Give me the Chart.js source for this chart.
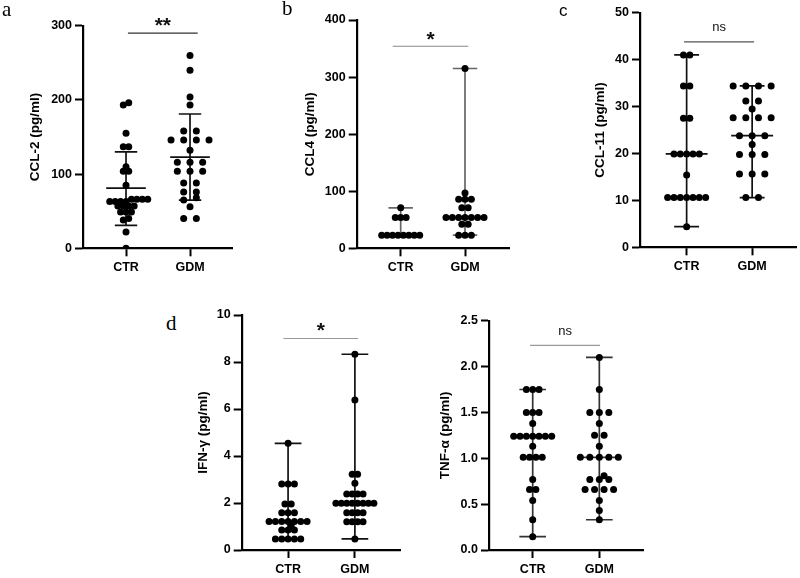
<!DOCTYPE html>
<html>
<head>
<meta charset="utf-8">
<script src="https://cdn.jsdelivr.net/npm/chart.js@4.4.1/dist/chart.umd.min.js"></script>
<style>
  body { margin: 0; background: #fff; }
  #fig { position: relative; width: 800px; height: 578px; overflow: hidden; }
  .panel { position: absolute; }
  .tag { position: absolute; font: 21px 'Liberation Serif', serif; line-height: 1; color: #000; }
</style>
</head>
<body>
<div id="fig">
  <canvas class="panel" id="ca" width="245" height="290" style="left:0;top:0"></canvas>
  <canvas class="panel" id="cb" width="255" height="290" style="left:262px;top:0"></canvas>
  <canvas class="panel" id="cc" width="255" height="290" style="left:545px;top:0"></canvas>
  <canvas class="panel" id="cd" width="225" height="283" style="left:185px;top:295px"></canvas>
  <canvas class="panel" id="ce" width="220" height="283" style="left:430px;top:295px"></canvas>
  <div class="tag" style="left:2px;top:-1px">a</div>
  <div class="tag" style="left:282px;top:-2px">b</div>
  <div class="tag" style="left:559px;top:1px;font:17px 'Liberation Sans',sans-serif">c</div>
  <div class="tag" style="left:166px;top:313px">d</div>
</div>
<script>
const groups = ['CTR', 'GDM'];

// a: CCL-2, mean with SD
const ccl2Ctr = [196, 193, 155, 137, 137, 110, 104, 104, 85, 66, 66, 66, 66, 63, 63, 63, 63, 57, 57, 57, 57, 49, 49, 49, 40, 38, 22, 0];
const ccl2Gdm = [260, 240, 204, 193, 158, 158, 146, 146, 146, 146, 132, 116, 116, 116, 104, 104, 104, 88, 88, 76, 76, 68, 65, 56, 40, 40];
const ccl2Mid = [81, 123];
const ccl2Low = [31, 65];
const ccl2High = [130, 181];
const ccl2Ticks = [0, 100, 200, 300];

// b: CCL4, median with range
const ccl4Ctr = [71, 54, 54, 54, 23, 23, 23, 23, 23, 23, 23, 23];
const ccl4Gdm = [315, 97, 86, 86, 86, 71, 71, 54, 54, 54, 54, 54, 54, 54, 42, 42, 23, 23, 23];
const ccl4Mid = [23, 54];
const ccl4Low = [23, 23];
const ccl4High = [71, 315];
const ccl4Ticks = [0, 100, 200, 300, 400];

// c: CCL-11
const ccl11Ctr = [41, 41, 34.4, 34.4, 27.5, 27.5, 19.9, 19.9, 19.9, 19.9, 19.9, 15.4, 10.6, 10.6, 10.6, 10.6, 10.6, 10.6, 10.6, 4.4];
const ccl11Gdm = [34.4, 34.4, 34.4, 34.4, 31.2, 31.2, 29.5, 27.6, 27.6, 27.6, 27.6, 23.8, 23.8, 23.8, 21.9, 19.8, 19.8, 19.8, 15.6, 15.6, 15.6, 10.6, 10.6];
const ccl11Mid = [19.9, 23.8];
const ccl11Low = [4.4, 10.6];
const ccl11High = [41, 34.4];
const ccl11Ticks = [0, 10, 20, 30, 40, 50];

// d: IFN-γ
const ifnCtr = [4.54, 2.81, 2.81, 2.81, 1.96, 1.96, 1.59, 1.59, 1.59, 1.21, 1.21, 1.21, 1.21, 1.21, 1.21, 1.21, 1.02, 0.85, 0.85, 0.85, 0.47, 0.47, 0.47, 0.47, 0.47];
const ifnGdm = [8.33, 6.38, 3.22, 3.22, 2.84, 2.38, 2.38, 2.38, 2.38, 1.99, 1.99, 1.99, 1.99, 1.99, 1.99, 1.99, 1.99, 1.59, 1.59, 1.59, 1.59, 1.2, 1.2, 1.2, 1.2, 0.47];
const ifnMid = [1.21, 1.99];
const ifnLow = [0.47, 0.47];
const ifnHigh = [4.54, 8.33];
const ifnTicks = [0, 2, 4, 6, 8, 10];

// e: TNF-α
const tnfCtr = [1.75, 1.75, 1.75, 1.5, 1.5, 1.5, 1.38, 1.24, 1.24, 1.24, 1.24, 1.24, 1.24, 1.24, 1.13, 1.01, 1.01, 1.01, 1.01, 0.77, 0.66, 0.66, 0.54, 0.33, 0.145];
const tnfGdm = [2.1, 1.75, 1.5, 1.5, 1.5, 1.38, 1.25, 1.25, 1.13, 1.01, 1.01, 1.01, 1.01, 1.01, 0.81, 0.77, 0.77, 0.77, 0.66, 0.66, 0.66, 0.66, 0.54, 0.43, 0.33];
const tnfMid = [1.24, 1.01];
const tnfLow = [0.145, 0.33];
const tnfHigh = [1.75, 2.1];
const tnfTicks = [0, 0.5, 1.0, 1.5, 2.0, 2.5];

const significance = ['**', '*', 'ns', '*', 'ns'];

Chart.defaults.font.family = "'Liberation Sans', Arial, sans-serif";
Chart.defaults.color = '#000';

const panels = [
  { id: 'ca', box: [0, 0, 245, 290], area: [83, 232, 25.7, 248.3], xr: [0.328, 2.656], titleX: 35,
    title: 'CCL-2 (pg/ml)', ctr: ccl2Ctr, gdm: ccl2Gdm, mid: ccl2Mid, low: ccl2Low, high: ccl2High, ticks: ccl2Ticks,
    half: 0.31, cap: 0.175, line: '#111', sig: { from: 1.03, to: 2.12, at: 290, gap: 1, color: '#333' } },
  { id: 'cb', box: [262, 0, 255, 290], area: [356.7, 509, 20, 248.3], xr: [0.316, 2.684], titleX: 310,
    title: 'CCL4 (pg/ml)', ctr: ccl4Ctr, gdm: ccl4Gdm, mid: ccl4Mid, low: ccl4Low, high: ccl4High, ticks: ccl4Ticks,
    half: 0.3, cap: 0.19, line: '#666', sig: { from: 0.876, to: 2.05, at: 354, gap: 0, color: '#888' } },
  { id: 'cc', box: [545, 0, 255, 290], area: [640, 796.7, 12.7, 247.3], xr: [0.288, 2.677], titleX: 600,
    title: 'CCL-11 (pg/ml)', ctr: ccl11Ctr, gdm: ccl11Gdm, mid: ccl11Mid, low: ccl11Low, high: ccl11High, ticks: ccl11Ticks,
    half: 0.32, cap: 0.19, line: '#111', sig: { from: 0.96, to: 2.03, at: 43.8, gap: 11, color: '#555' } },
  { id: 'cd', box: [185, 295, 225, 283], area: [241.7, 400, 315, 550], xr: [0.306, 2.675], titleX: 203.3,
    title: 'IFN-γ (pg/ml)', ctr: ifnCtr, gdm: ifnGdm, mid: ifnMid, low: ifnLow, high: ifnHigh, ticks: ifnTicks,
    half: 0.32, cap: 0.2, line: '#111', sig: { from: 0.93, to: 2.05, at: 9.0, gap: 2, color: '#999' } },
  { id: 'ce', box: [430, 295, 220, 283], area: [489, 643.3, 320.7, 550], xr: [0.344, 2.66], titleX: 445, fixed: 1,
    title: 'TNF-α (pg/ml)', ctr: tnfCtr, gdm: tnfGdm, mid: tnfMid, low: tnfLow, high: tnfHigh, ticks: tnfTicks,
    half: 0.32, cap: 0.2, line: '#333', sig: { from: 0.96, to: 2.01, at: 2.23, gap: 10, color: '#999' } }
];

// min/range whisker with caps and a centre bar, one polyline broken by gaps
function whisker(c, lo, hi, mid, cap, half) {
  return [
    { x: c - cap, y: hi }, { x: c + cap, y: hi }, { x: c, y: null },
    { x: c, y: hi }, { x: c, y: lo }, { x: c, y: null },
    { x: c - cap, y: lo }, { x: c + cap, y: lo }, { x: c, y: null },
    { x: c - half, y: mid }, { x: c + half, y: mid }
  ];
}

const sigPlugin = {
  id: 'sig',
  afterDatasetsDraw(chart, args, o) {
    const { ctx, scales: { x, y } } = chart;
    const x1 = x.getPixelForValue(o.from), x2 = x.getPixelForValue(o.to);
    const yy = y.getPixelForValue(o.at);
    ctx.save();
    ctx.strokeStyle = o.color;
    ctx.lineWidth = 1.2;
    ctx.beginPath();
    ctx.moveTo(x1, yy);
    ctx.lineTo(x2, yy);
    ctx.stroke();
    ctx.fillStyle = '#111';
    ctx.textAlign = 'center';
    ctx.textBaseline = 'alphabetic';
    ctx.font = o.text === 'ns' ? "13px 'Liberation Sans', Arial" : "bold 21px 'Liberation Sans', Arial";
    ctx.fillText(o.text, (x1 + x2) / 2, yy - o.gap);
    ctx.restore();
  }
};

// spread equal-ish values sideways like a column scatter
function swarm(chart) {
  const xs = chart.scales.x, ys = chart.scales.y;
  const unit = xs.getPixelForValue(2) - xs.getPixelForValue(1);
  chart.data.datasets.forEach(ds => {
    if (!ds.values) return;
    const vals = ds.values;
    const py = vals.map(v => ys.getPixelForValue(v));
    const order = vals.map((v, i) => i).sort((a, b) => vals[a] - vals[b]);
    const rows = [];
    order.forEach(i => {
      const r = rows[rows.length - 1];
      if (r && Math.abs(py[r[0]] - py[i]) < 2.5) r.push(i); else rows.push([i]);
    });
    const maxRow = Math.max(...rows.map(r => r.length));
    const step = Math.min(13, 38 / Math.max(maxRow - 1, 1));
    const placed = [];
    const pts = [];
    rows.forEach(r => {
      const base = r.map((_, k) => (k - (r.length - 1) / 2) * step);
      let shift = 0;
      for (let t = 0; t < 14; t++) {
        const s = t === 0 ? 0 : Math.ceil(t / 2) * step / 2 * (t % 2 ? 1 : -1);
        const ok = r.every((i, k) => placed.every(p => Math.hypot(p.dx - base[k] - s, p.py - py[i]) >= 4.6));
        if (ok) { shift = s; break; }
      }
      r.forEach((i, k) => {
        const dx = base[k] + shift;
        placed.push({ dx, py: py[i] });
        pts.push({ x: ds.centre + dx / unit, y: vals[i] });
      });
    });
    ds.data = pts;
  });
  chart.update('none');
}

panels.forEach((p, n) => {
  const [bl, bt, bw, bh] = p.box;
  const [al, ar, at, ab] = p.area;
  const font = { size: 12.5, weight: 'bold' };
  const datasets = [];
  [p.ctr, p.gdm].forEach((vals, g) => {
    datasets.push({
      type: 'scatter', values: vals, centre: g + 1,
      data: vals.map(v => ({ x: g + 1, y: v })),
      pointRadius: 3.5, pointHoverRadius: 3.5, backgroundColor: '#000', borderWidth: 0
    });
  });
  [0, 1].forEach(g => {
    datasets.push({
      type: 'line', data: whisker(g + 1, p.low[g], p.high[g], p.mid[g], p.cap, p.half),
      borderColor: p.line, borderWidth: 1.7, pointRadius: 0, spanGaps: false, fill: false
    });
  });
  const chart = new Chart(document.getElementById(p.id), {
    type: 'scatter',
    data: { datasets },
    options: {
      responsive: false,
      animation: false,
      events: [],
      layout: { padding: { top: at - bt, right: bl + bw - ar, bottom: 0, left: 0 } },
      plugins: {
        legend: { display: false },
        tooltip: { enabled: false },
        sig: Object.assign({ text: significance[n] }, p.sig)
      },
      scales: {
        x: {
          type: 'linear', min: p.xr[0], max: p.xr[1],
          border: { color: '#000', width: 2.2 },
          grid: { drawOnChartArea: false, tickLength: 8, tickWidth: 2, tickColor: '#000' },
          ticks: { font, padding: 4, autoSkip: false, maxRotation: 0, callback: v => groups[v - 1] },
          afterBuildTicks: s => { s.ticks = [{ value: 1 }, { value: 2 }]; },
          afterFit: s => { s.height = bt + bh - ab; }
        },
        y: {
          min: p.ticks[0], max: p.ticks[p.ticks.length - 1],
          border: { color: '#000', width: 2.2 },
          grid: { drawOnChartArea: false, tickLength: 8, tickWidth: 2, tickColor: '#000' },
          ticks: { font, padding: 3, autoSkip: false, callback: v => p.fixed ? v.toFixed(p.fixed) : v },
          afterBuildTicks: s => { s.ticks = p.ticks.map(v => ({ value: v })); },
          title: { display: true, text: p.title, font: { size: 13.5, weight: 'bold' }, padding: { top: p.titleX - bl - 8.1, bottom: 0 } },
          afterFit: s => { s.width = al - bl; }
        }
      }
    },
    plugins: [sigPlugin]
  });
  swarm(chart);
});
</script>
</body>
</html>
